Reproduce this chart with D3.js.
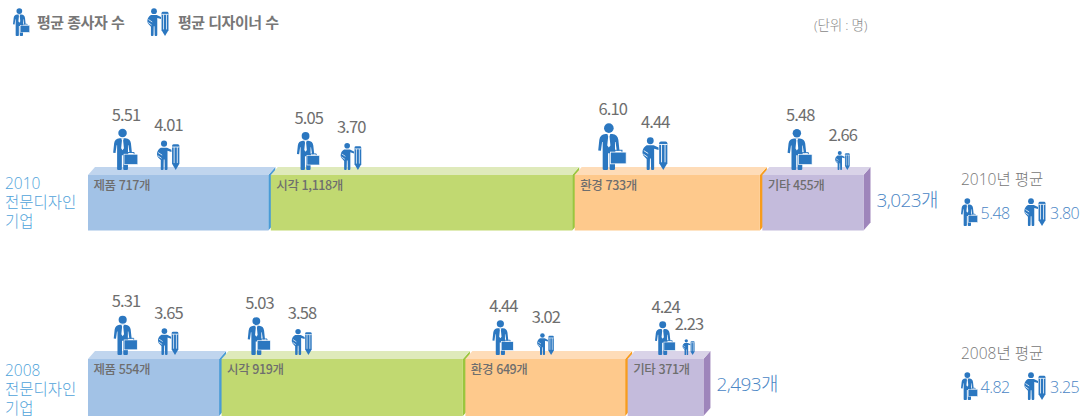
<!DOCTYPE html>
<html lang="ko">
<head>
<meta charset="utf-8">
<script src="https://cdn.jsdelivr.net/npm/d3@7"></script>
<style>
  html, body { margin: 0; padding: 0; background: #fff; }
  svg { display: block; }
  text { font-family: "Noto Sans CJK KR", "Noto Sans", sans-serif; }
  .thin { font-family: "Open Sans", "Noto Sans CJK KR", sans-serif; font-weight: 300; }
</style>
</head>
<body>
<div id="chart"></div>
<script>
// Data
var fields = ["제품", "시각", "환경", "기타"];
var years = ["2010", "2008"];
var firms2010 = [717, 1118, 733, 455];
var firms2008 = [554, 919, 649, 371];
var staff2010 = [5.51, 5.05, 6.10, 5.48];
var staff2008 = [5.31, 5.03, 4.44, 4.24];
var designers2010 = [4.01, 3.70, 4.44, 2.66];
var designers2008 = [3.65, 3.58, 3.02, 2.23];
var avgStaff = [5.48, 4.82];
var avgDesigners = [3.80, 3.25];
var legendLabels = ["평균 종사자 수", "평균 디자이너 수"];
var unitLabel = "(단위 : 명)";
var rowLabelLines = ["전문디자인", "기업"];

var svgWidth = 1088;
var svgHeight = 418;

var svg = d3.select("#chart")
  .append("svg")
  .attr("width", svgWidth)
  .attr("height", svgHeight);

var iconBlue = "#2b77c0";
var textGrey = "#6e6e6e";
var totalBlue = "#4a86c5";
var skyBlue = "#4fa3da";

var frontColors = d3.scaleOrdinal().domain(fields).range(["#a2c2e6", "#c1d971", "#fec98c", "#c4bbdc"]);
var topColors = d3.scaleOrdinal().domain(fields).range(["#c0d5ee", "#dfeabb", "#fedcb8", "#d9d3e8"]);
var sideColors = d3.scaleOrdinal().domain(fields).range(["#4a9bd6", "#9ac63e", "#f89c1c", "#9e85bb"]);

// bar widths in the picture are not proportional from zero, they start around 120
var widthScale = d3.scaleLinear().domain([120, 1118]).range([0, 301.4]);
var manHeight = d3.scaleLinear().domain([4.24, 5.3, 6.1]).range([34, 39.5, 47]);
var designerHeight = d3.scaleLinear().domain([2.23, 4.44]).range([16, 33]);
var fmtValue = d3.format(".2f");
var fmtCount = d3.format(",");

var barLeft = 88;
var barGap = 2.5;
var depth = 7;
var rows = [
  { year: years[0], firms: firms2010, staff: staff2010, designers: designers2010, top: 167, bottom: 230.5, iconBase: 170, labelY: 189 },
  { year: years[1], firms: firms2008, staff: staff2008, designers: designers2008, top: 351, bottom: 416, iconBase: 355, labelY: 376 }
];

// man with briefcase, drawn in a 25 x 42 box
function drawMan(parent, x, base, h) {
  var g = parent.append("g")
    .attr("transform", `translate(${x}, ${base - h}) scale(${h / 42})`);
  g.append("circle").attr("cx", 9.5).attr("cy", 4.6).attr("r", 4.3).attr("fill", iconBlue);
  g.append("path")
    .attr("d", "M6.5,9.8 L12.5,9.8 C15.8,10 17.6,11.8 18,15 L19,24.5 L16.6,24.8 L15.5,17 L15,17 L15,41 Q15,42 13.8,42 L11.3,42 Q10.2,42 10.2,41 L10.2,27 L8.8,27 L8.8,41 Q8.8,42 7.7,42 L5.2,42 Q4,42 4,41 L4,17 L3.5,17 L2.4,24.8 L0,24.5 L1,15 C1.4,11.8 3.2,10 6.5,9.8 Z")
    .attr("fill", iconBlue);
  g.append("path")
    .attr("d", "M8.2,9.8 L10.8,9.8 L10.1,12 L10.9,20 L9.5,22 L8.1,20 L8.9,12 Z")
    .attr("fill", "#fff");
  g.append("path")
    .attr("d", "M14.8,26.5 L14.8,24.3 L21.2,24.3 L21.2,26.5")
    .attr("fill", "none")
    .attr("stroke", iconBlue)
    .attr("stroke-width", 1);
  g.append("rect")
    .attr("x", 11).attr("y", 26).attr("width", 14).attr("height", 10.5)
    .attr("fill", iconBlue)
    .attr("stroke", "#fff")
    .attr("stroke-width", 0.7);
}

// designer with a big pencil, drawn in a 23 x 30 box
function drawDesigner(parent, x, base, h) {
  var g = parent.append("g")
    .attr("transform", `translate(${x}, ${base - h}) scale(${h / 30})`);
  g.append("circle").attr("cx", 7.5).attr("cy", 3.4).attr("r", 3.1).attr("fill", iconBlue);
  g.append("path")
    .attr("d", "M4.2,7.4 L10.5,7.4 L15,9.6 L15,11.8 L11,10.6 L11,29 Q11,30 10,30 L9,30 Q8.2,30 8.2,29 L8,19.5 L7.2,19.5 L7,29 Q7,30 6,30 L5,30 Q4.2,30 4.2,29 L4.2,20 L1.8,17.5 C-0.4,15 -0.2,10 4.2,7.4 Z")
    .attr("fill", iconBlue);
  g.append("path")
    .attr("d", "M1.6,12.4 L5.6,15 M1.2,15.6 L5,18.2")
    .attr("fill", "none")
    .attr("stroke", "#fff")
    .attr("stroke-width", 0.8);
  g.append("path")
    .attr("d", "M15.6,5.6 Q15.6,4 17.2,4 L21.4,4 Q23,4 23,5.6 L23,23.8 L19.3,30 L15.6,23.8 Z")
    .attr("fill", iconBlue);
  g.append("path")
    .attr("d", "M15.6,6.8 L23,6.8 M17.7,6.8 L17.7,23 M20.9,6.8 L20.9,23")
    .attr("fill", "none")
    .attr("stroke", "#fff")
    .attr("stroke-width", 0.8);
}

rows.forEach(function(row) {
  var frontTop = row.top + depth + 1;
  var group = svg.append("g");
  var x0 = barLeft;

  // Segments: front, top face and slanted side strip
  row.firms.forEach(function(count, i) {
    var w = widthScale(count);
    var x1 = x0 + w;
    var field = fields[i];

    group.append("path")
      .attr("d", `M${x1},${frontTop} L${x1 + depth},${row.top} L${x1 + depth},${row.bottom - depth - 1} L${x1},${row.bottom} Z`)
      .attr("fill", sideColors(field));
    group.append("path")
      .attr("d", `M${x0},${frontTop} L${x0 + depth},${row.top} L${x1 + depth},${row.top} L${x1},${frontTop} Z`)
      .attr("fill", topColors(field));
    group.append("rect")
      .attr("x", x0)
      .attr("y", frontTop)
      .attr("width", w)
      .attr("height", row.bottom - frontTop)
      .attr("fill", frontColors(field));
    group.append("text")
      .attr("x", x0 + 5.5)
      .attr("y", frontTop + 15)
      .attr("font-size", 12.5)
      .attr("font-weight", 500)
      .attr("letter-spacing", "-0.4px")
      .attr("fill", textGrey)
      .text(`${field} ${fmtCount(count)}개`);

    // Icons sit on the bar, with their values above them
    var manH = manHeight(row.staff[i]);
    var desH = designerHeight(row.designers[i]);
    var manW = manH * 25 / 42;
    var desW = desH * 23 / 30;
    var manCx = x0 + 37.5;
    var desCx = x0 + Math.min(80, w - 15);
    drawMan(group, manCx - manW / 2, row.iconBase, manH);
    drawDesigner(group, desCx - desW / 2, row.iconBase, desH);

    group.append("text")
      .attr("x", manCx + 0.5)
      .attr("y", row.iconBase - manH - 8)
      .attr("text-anchor", "middle")
      .attr("font-size", 16.5)
      .attr("letter-spacing", "-0.9px")
      .attr("fill", textGrey)
      .text(fmtValue(row.staff[i]));
    group.append("text")
      .attr("x", desCx + 0.5)
      .attr("y", row.iconBase - desH - 9.5)
      .attr("text-anchor", "middle")
      .attr("font-size", 16.5)
      .attr("letter-spacing", "-0.9px")
      .attr("fill", textGrey)
      .text(fmtValue(row.designers[i]));

    x0 = x1 + barGap;
  });

  // Row total to the right of the last side face
  group.append("text")
    .attr("class", "thin")
    .attr("x", x0 - barGap + depth + 6)
    .attr("y", frontTop + 32)
    .attr("font-size", 19)
    .attr("letter-spacing", "-0.6px")
    .attr("fill", totalBlue)
    .text(`${fmtCount(d3.sum(row.firms))}개`);

  // Row label on the left
  var label = group.append("text")
    .attr("class", "thin")
    .attr("x", 5)
    .attr("y", row.labelY)
    .attr("font-size", 15.5)
    .attr("fill", skyBlue);
  label.append("tspan").attr("x", 5).text(row.year);
  rowLabelLines.forEach(function(line) {
    label.append("tspan").attr("x", 5).attr("dy", 19).text(line);
  });
});

// Averages on the right
var avgTitleY = d3.scalePoint().domain(years).range([185, 359]);
years.forEach(function(year, i) {
  var y = avgTitleY(year);
  svg.append("text")
    .attr("class", "thin")
    .attr("x", 961)
    .attr("y", y)
    .attr("font-size", 15.5)
    .attr("fill", "#777")
    .text(`${year}년 평균`);
  drawMan(svg, 961, y + 41, 28);
  drawDesigner(svg, 1024, y + 41, 28);
  svg.append("text")
    .attr("class", "thin")
    .attr("x", 980.5)
    .attr("y", y + 34)
    .attr("font-size", 16)
    .attr("letter-spacing", "-0.5px")
    .attr("fill", totalBlue)
    .text(fmtValue(avgStaff[i]));
  svg.append("text")
    .attr("class", "thin")
    .attr("x", 1050)
    .attr("y", y + 34)
    .attr("font-size", 16)
    .attr("letter-spacing", "-0.5px")
    .attr("fill", totalBlue)
    .text(fmtValue(avgDesigners[i]));
});

// Legend
drawMan(svg, 13, 36, 28);
drawDesigner(svg, 147, 36, 28);
svg.append("text")
  .attr("x", 37)
  .attr("y", 28)
  .attr("font-size", 15)
  .attr("font-weight", 700)
  .attr("letter-spacing", "-0.5px")
  .attr("fill", "#777")
  .text(legendLabels[0]);
svg.append("text")
  .attr("x", 178)
  .attr("y", 28)
  .attr("font-size", 15)
  .attr("font-weight", 700)
  .attr("letter-spacing", "-0.5px")
  .attr("fill", "#777")
  .text(legendLabels[1]);
svg.append("text")
  .attr("class", "thin")
  .attr("x", 814)
  .attr("y", 30)
  .attr("font-size", 13.5)
  .attr("letter-spacing", "-0.2px")
  .attr("fill", "#888")
  .text(unitLabel);
</script>
</body>
</html>
